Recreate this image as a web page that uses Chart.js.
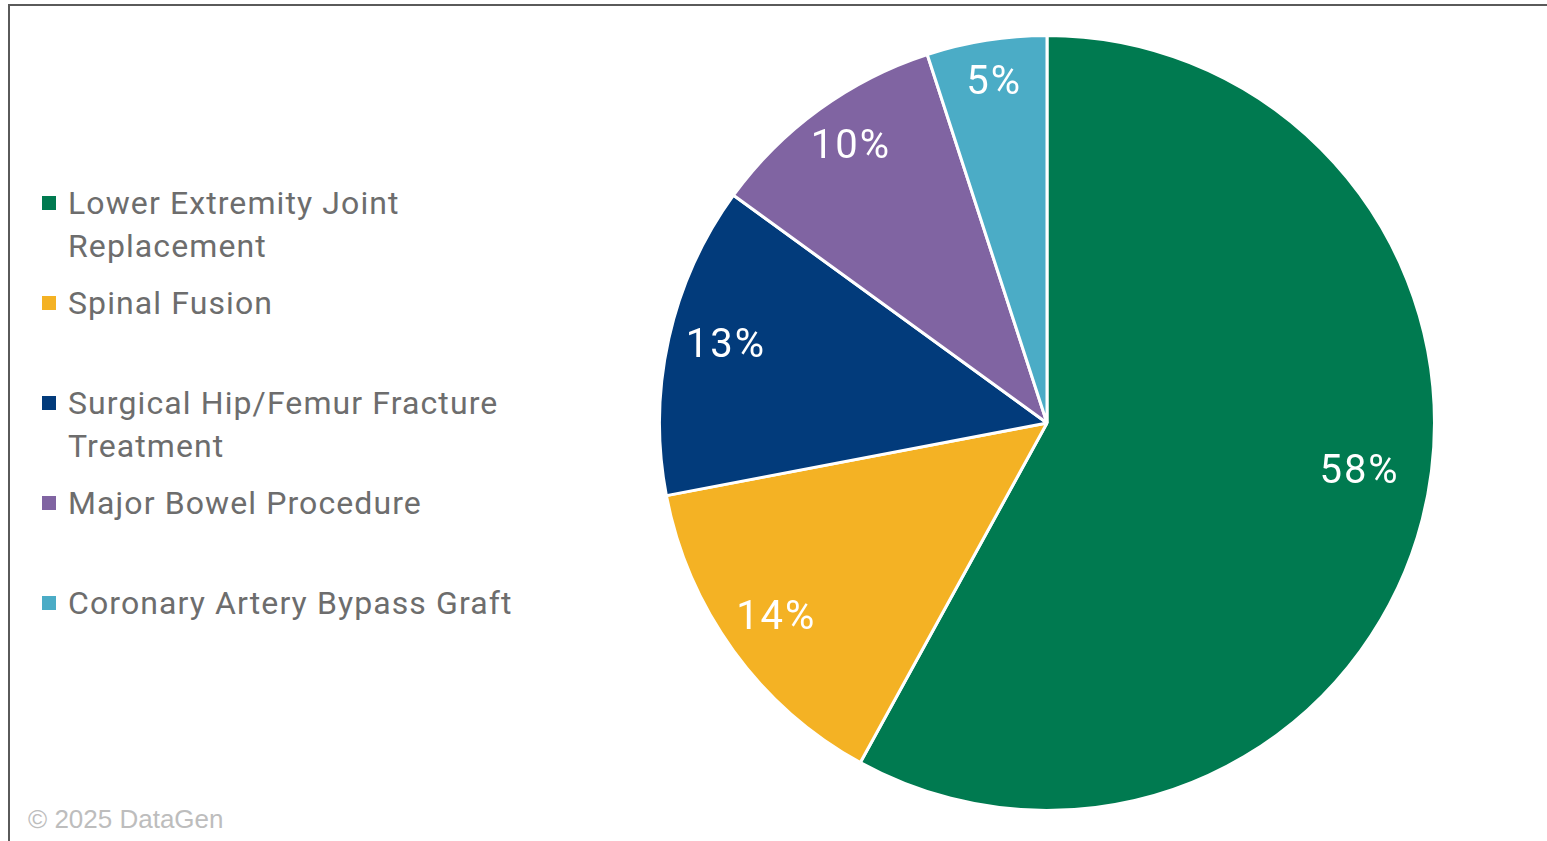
<!DOCTYPE html>
<html>
<head>
<meta charset="utf-8">
<title>Procedure share</title>
<script src="https://cdn.jsdelivr.net/npm/chart.js@4"></script>
<style>
    html, body {
        margin: 0;
        padding: 0;
        width: 1547px;
        height: 841px;
        background: #fff;
        overflow: hidden;
        font-family: Roboto, "Liberation Sans", sans-serif;
    }
    #frame {
        position: absolute;
        left: 8px;
        top: 4px;
        right: 0;
        bottom: 0;
        border-top: 2px solid #5a5a5a;
        border-left: 2px solid #5a5a5a;
    }
    #pieWrap {
        position: absolute;
        left: 658px;
        top: 34px;
        width: 778px;
        height: 778px;
    }
    #legend {
        position: absolute;
        left: 42px;
        top: 0;
    }
    .item {
        position: absolute;
        left: 0;
        display: flex;
        align-items: flex-start;
        color: #6d6d6d;
        font-size: 32px;
        line-height: 43px;
        letter-spacing: 1.1px;
        white-space: nowrap;
    }
    .box {
        width: 14px;
        height: 14px;
        margin-top: 14px;
        margin-right: 12px;
        flex: none;
    }
    #copy {
        position: absolute;
        left: 28px;
        top: 804px;
        color: #bdbdbd;
        font-family: "Liberation Sans", Arial, sans-serif;
        font-size: 26px;
        line-height: 30px;
    }
</style>
</head>
<body>
<div id="frame"></div>
<div id="legend"></div>
<div id="pieWrap"><canvas id="chartShare"></canvas></div>
<div id="copy">© 2025 DataGen</div>

<script>
// slice data, clockwise from 12 o'clock
const labels = [
    "Lower Extremity Joint Replacement",
    "Spinal Fusion",
    "Surgical Hip/Femur Fracture Treatment",
    "Major Bowel Procedure",
    "Coronary Artery Bypass Graft",
];
const legendLines = [
    ["Lower Extremity Joint", "Replacement"],
    ["Spinal Fusion"],
    ["Surgical Hip/Femur Fracture", "Treatment"],
    ["Major Bowel Procedure"],
    ["Coronary Artery Bypass Graft"],
];
const shares = [58, 14, 13, 10, 5];
const colors = ["#007a50", "#f4b224", "#023b7b", "#8064a2", "#4bacc6"];

// legend down the left side, one item every 100px
let legend = document.getElementById("legend");
legendLines.forEach(function (lines, i) {
    let item = document.createElement("div");
    item.className = "item";
    item.style.top = (182 + i * 100) + "px";
    let box = document.createElement("div");
    box.className = "box";
    box.style.background = colors[i];
    let text = document.createElement("div");
    text.innerHTML = lines.join("<br>");
    item.appendChild(box);
    item.appendChild(text);
    legend.appendChild(item);
});

// percent labels placed inside each slice
const sliceLabels = {
    id: "sliceLabels",
    afterDatasetsDraw(chart, args, opts) {
        let c = chart.ctx;
        let meta = chart.getDatasetMeta(0);
        c.save();
        c.fillStyle = "#ffffff";
        c.font = opts.font;
        c.letterSpacing = opts.spacing;
        c.textAlign = "center";
        c.textBaseline = "middle";
        meta.data.forEach(function (arc, i) {
            let p = arc.getProps(["x", "y", "startAngle", "endAngle", "outerRadius"], true);
            let mid = (p.startAngle + p.endAngle) / 2;
            let r = p.outerRadius * opts.radius;
            let nudge = opts.nudge[i] || [0, 0];
            let x = p.x + Math.cos(mid) * r + nudge[0];
            let y = p.y + Math.sin(mid) * r + nudge[1];
            c.fillText(shares[i] + "%", x, y);
        });
        c.restore();
    },
};

let ctx = document.getElementById("chartShare").getContext("2d");
let myChart = new Chart(ctx, {
    type: "pie",
    data: {
        labels: labels,
        datasets: [
            {
                data: shares,
                backgroundColor: colors,
                borderColor: "#ffffff",
                borderWidth: 3,
            },
        ],
    },
    options: {
        responsive: true,
        maintainAspectRatio: false,
        animation: false,
        layout: { padding: 0 },
        plugins: {
            legend: { display: false },
            tooltip: { enabled: false },
            sliceLabels: {
                font: "40px Roboto, 'Liberation Sans', sans-serif",
                spacing: "2px",
                radius: 0.87,
                nudge: [[-14, -34], [2, -2], [8, -2], [2, -2], [0, -6]],
            },
        },
    },
    plugins: [sliceLabels],
});
</script>
</body>
</html>
